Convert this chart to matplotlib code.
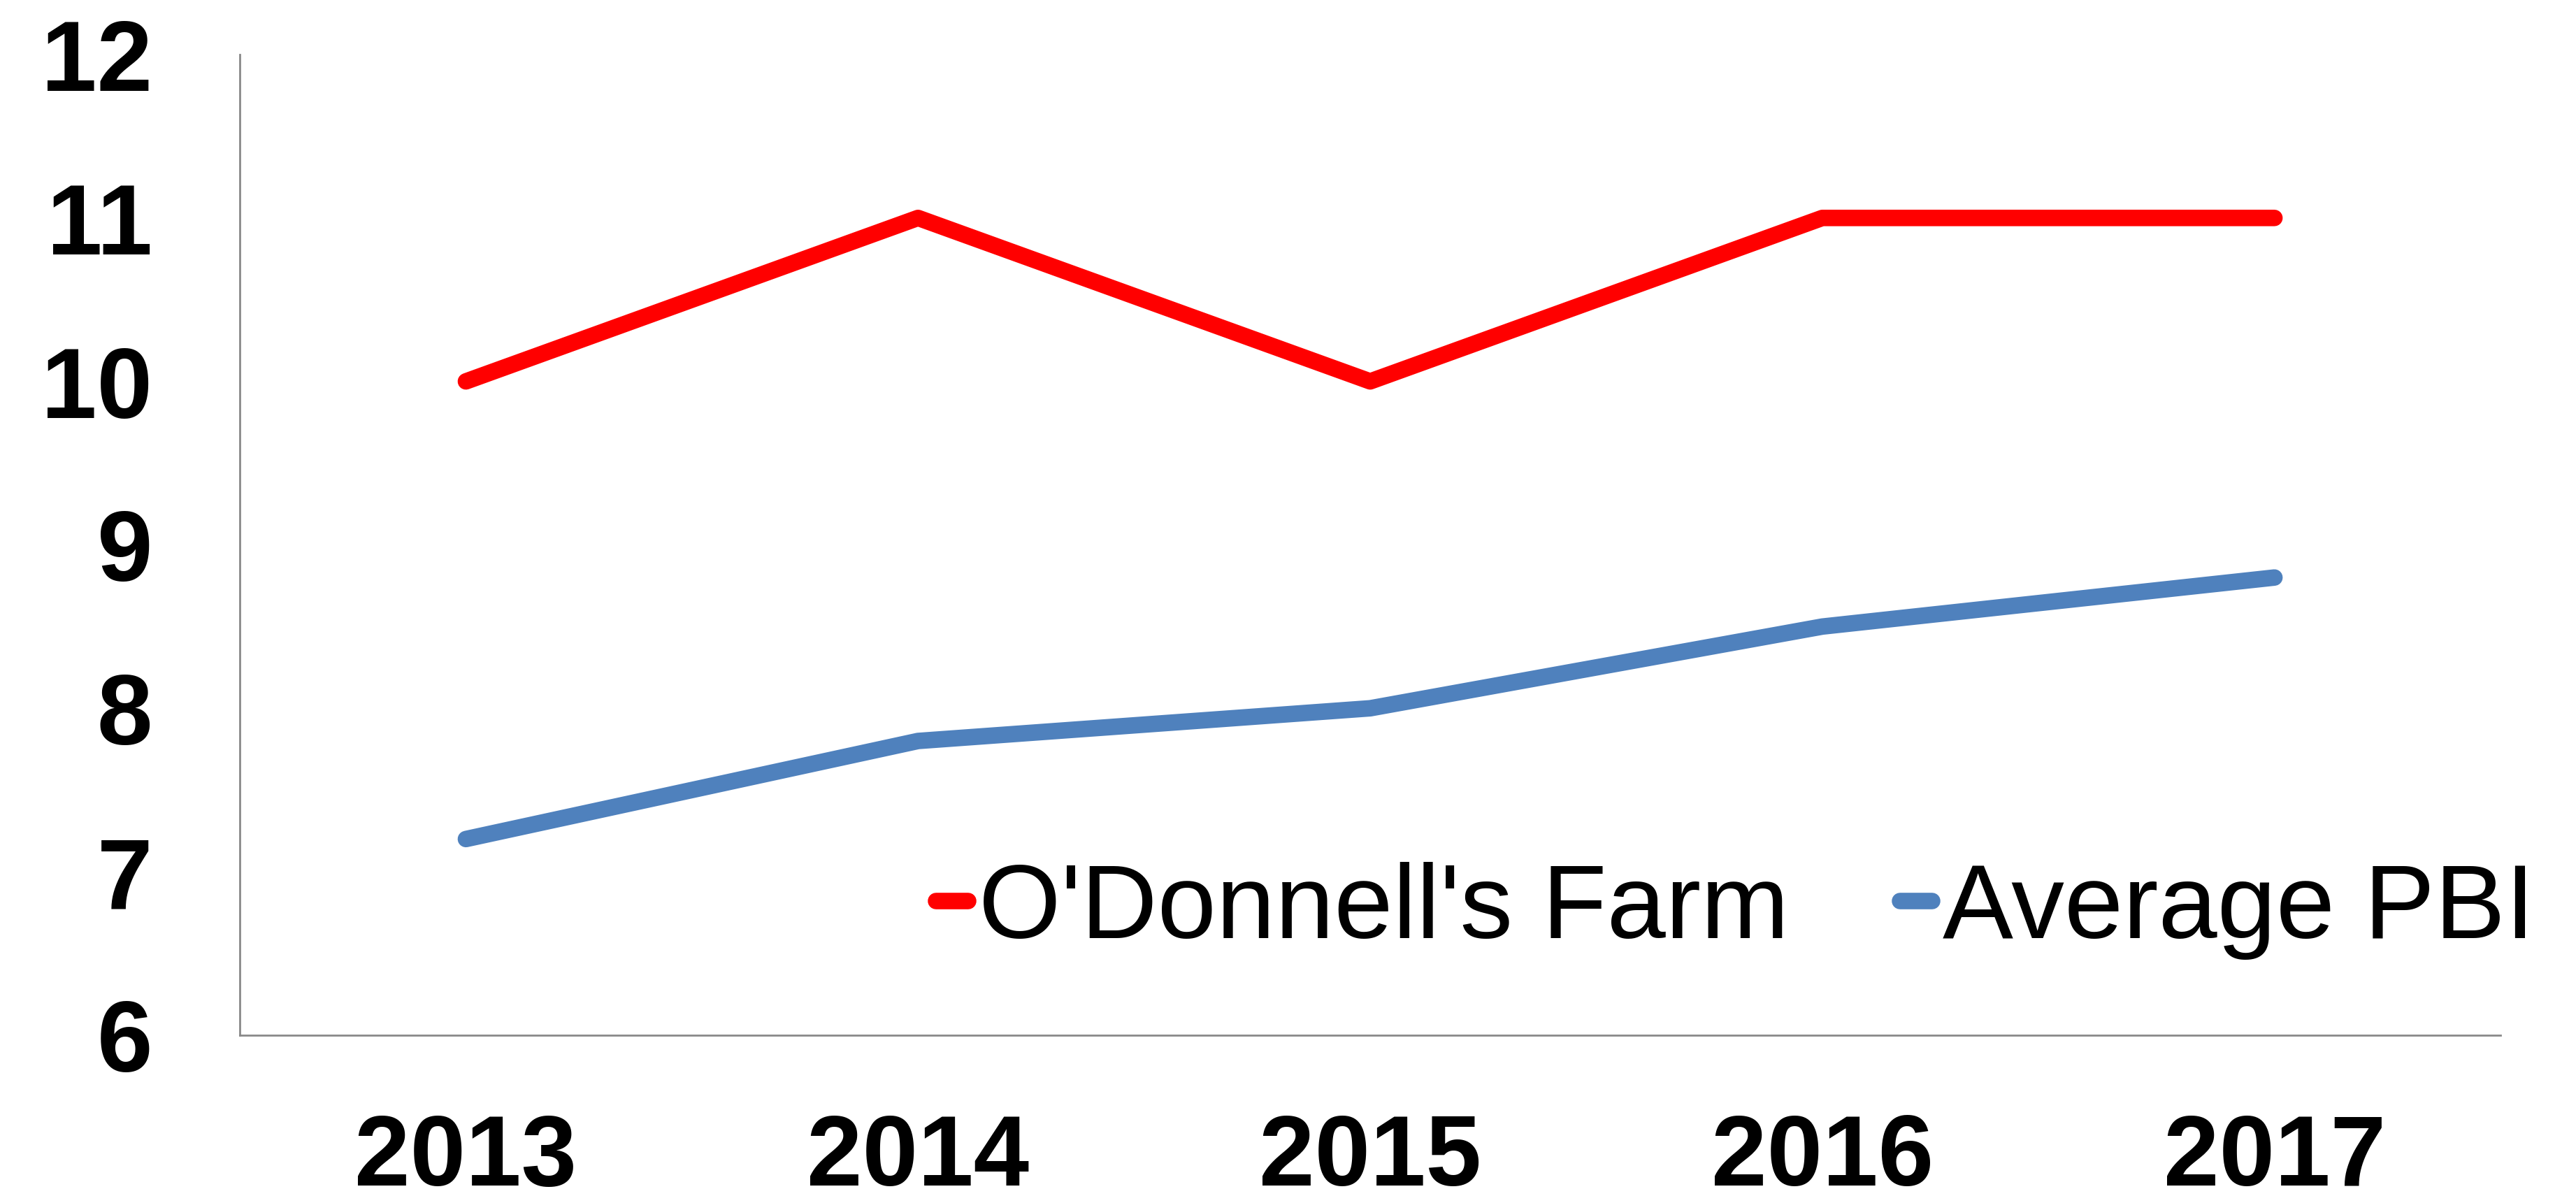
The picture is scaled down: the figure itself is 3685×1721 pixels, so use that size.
import matplotlib
matplotlib.use("Agg")
import matplotlib.pyplot as plt

years = ["2013", "2014", "2015", "2016", "2017"]
odonnell = [10, 11, 10, 11, 11]
average_pbi = [7.2, 7.8, 8.0, 8.5, 8.8]
yticks = [6, 7, 8, 9, 10, 11, 12]

plt.rcParams['font.family'] = ['Liberation Sans', 'DejaVu Sans']

fig = plt.figure(figsize=(36.85, 17.21), dpi=100)
ax = fig.add_axes([0.0931, 0.1395, 0.9707 - 0.0931, 0.9547 - 0.1395])

x = list(range(len(years)))
ax.plot(x, odonnell, color="#FF0000", lw=17, solid_capstyle="round",
        solid_joinstyle="round", label="O'Donnell's Farm")
ax.plot(x, average_pbi, color="#4F81BD", lw=17, solid_capstyle="round",
        solid_joinstyle="round", label="Average PBI")

ax.set_xlim(-0.5, len(years) - 0.5)
ax.set_ylim(6, 12)
ax.set_yticks(yticks)
ax.set_yticklabels([str(v) for v in yticks], fontsize=103, fontweight="bold")
ax.set_xticks(x)
ax.set_xticklabels(years, fontsize=103, fontweight="bold")
ax.tick_params(axis="both", length=0)
ax.tick_params(axis="y", pad=90)
ax.tick_params(axis="x", pad=80)

for s in ["top", "right"]:
    ax.spines[s].set_visible(False)
for s in ["left", "bottom"]:
    ax.spines[s].set_color("#898989")
    ax.spines[s].set_linewidth(2)

leg = fig.legend(loc="center left", bbox_to_anchor=(0.3635, 0.243), ncol=2,
                 frameon=False, fontsize=109, handlelength=0.3,
                 handletextpad=0.1, columnspacing=1.05, borderpad=0,
                 borderaxespad=0)

fig.savefig("out.png", dpi=100)
